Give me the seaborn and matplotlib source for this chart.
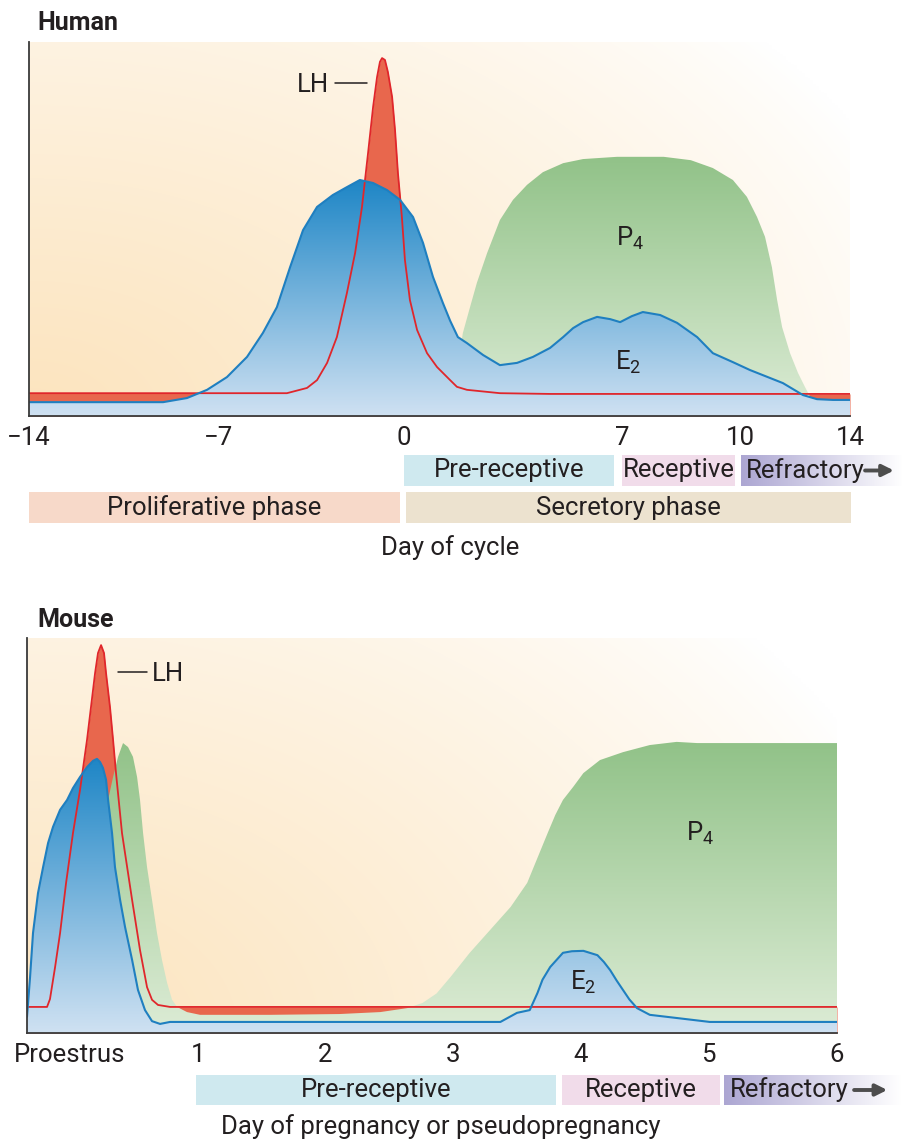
import numpy as np
import pandas as pd
import matplotlib
matplotlib.use("Agg")
import matplotlib.pyplot as plt
import seaborn as sns

# ================= DATA =================
# Human: day of cycle vs relative hormone level (0-1 of panel height)
human_lh_day = [-14.0, -4.43, -3.67, -3.29, -2.91, -2.54, -2.16, -1.85, -1.59, -1.36,
                -1.17, -1.02, -0.91, -0.83, -0.72, -0.61, -0.45, -0.34, -0.23, -0.08,
                0.03, 0.19, 0.42, 0.74, 1.06, 1.48, 1.70, 2.02, 3.08, 4.69, 14.0]
human_lh_val = [0.061, 0.061, 0.075, 0.096, 0.142, 0.211, 0.329, 0.436, 0.559, 0.703,
                0.826, 0.906, 0.947, 0.957, 0.952, 0.920, 0.853, 0.765, 0.650, 0.532,
                0.417, 0.310, 0.230, 0.168, 0.131, 0.096, 0.078, 0.070, 0.061, 0.059, 0.059]

human_e2_day = [-14.0, -9.06, -8.18, -7.44, -6.70, -5.94, -5.34, -4.81, -4.31, -3.82,
                -3.29, -2.69, -2.16, -1.67, -1.17, -0.64, -0.15, 0.29, 0.61, 0.93,
                1.25, 1.48, 1.73, 2.02, 2.54, 3.08, 3.63, 4.14, 4.69, 5.11,
                5.43, 5.75, 6.20, 6.62, 6.94, 7.25, 7.53, 7.97, 8.40, 8.91,
                9.31, 9.82, 10.36, 11.56, 12.29, 12.80, 13.38, 14.0]
human_e2_val = [0.037, 0.037, 0.048, 0.070, 0.104, 0.158, 0.222, 0.291, 0.398, 0.497,
                0.559, 0.591, 0.612, 0.631, 0.623, 0.604, 0.578, 0.532, 0.463, 0.372,
                0.302, 0.255, 0.211, 0.195, 0.163, 0.136, 0.142, 0.158, 0.182, 0.211,
                0.235, 0.251, 0.265, 0.259, 0.251, 0.267, 0.278, 0.270, 0.249, 0.211,
                0.168, 0.144, 0.123, 0.088, 0.056, 0.045, 0.043, 0.043]

human_p4_day = [1.48, 1.89, 2.12, 2.34, 2.67, 3.08, 3.50, 3.95, 4.46, 5.11,
                5.75, 6.84, 8.06, 8.75, 9.31, 9.82, 10.25, 10.62, 10.91, 11.16,
                11.35, 11.53, 11.82, 12.11, 12.36, 12.55, 12.84]
human_p4_val = [0.0, 0.222, 0.291, 0.356, 0.436, 0.524, 0.578, 0.618, 0.652, 0.676,
                0.687, 0.693, 0.693, 0.684, 0.663, 0.631, 0.586, 0.532, 0.479, 0.398,
                0.310, 0.238, 0.168, 0.115, 0.078, 0.051, 0.0]

human_ticks = [-14, -7, 0, 7, 10, 14]
human_tick_labels = ["\u221214", "\u22127", "0", "7", "10", "14"]
# the human day axis is drawn non-uniformly: tick days -> horizontal pixel positions
human_axis_days = [-16, -14, -7, 0, 7, 10, 14, 16]
human_axis_px = [-25, 29, 219, 404, 622, 740, 850, 905]

human_windows = ["Pre-receptive", "Receptive", "Refractory"]
human_window_start = [0.0, 7.0, 10.04]
human_window_end = [6.74, 9.87, 15.9]
human_phases = ["Proliferative phase", "Secretory phase"]
human_phase_start = [-14.0, 0.06]
human_phase_end = [-0.15, 14.04]

# Mouse: day of pregnancy vs relative hormone level
mouse_lh_day = [-0.337, -0.180, -0.157, -0.117, -0.078, -0.031, 0.023, 0.078, 0.133, 0.164,
                0.196, 0.219, 0.243, 0.266, 0.282, 0.313, 0.337, 0.360, 0.407, 0.486,
                0.548, 0.603, 0.642, 0.689, 0.783, 6.006]
mouse_lh_val = [0.066, 0.066, 0.086, 0.167, 0.253, 0.380, 0.506, 0.615, 0.742, 0.825,
                0.911, 0.962, 0.982, 0.962, 0.911, 0.825, 0.742, 0.658, 0.506, 0.337,
                0.210, 0.116, 0.084, 0.071, 0.066, 0.066]

mouse_e2_day = [-0.337, -0.313, -0.290, -0.251, -0.211, -0.172, -0.133, -0.078, -0.023, 0.023,
                0.078, 0.133, 0.180, 0.211, 0.235, 0.258, 0.282, 0.298, 0.329, 0.352,
                0.392, 0.431, 0.486, 0.532, 0.587, 0.642, 0.705, 0.783, 3.37, 3.50,
                3.60, 3.66, 3.70, 3.76, 3.86, 3.93, 4.02, 4.13, 4.18, 4.23,
                4.28, 4.33, 4.38, 4.44, 4.54, 4.75, 5.01, 6.006]
mouse_e2_val = [0.041, 0.142, 0.253, 0.354, 0.420, 0.481, 0.522, 0.565, 0.590, 0.620,
                0.648, 0.673, 0.689, 0.694, 0.686, 0.671, 0.641, 0.590, 0.506, 0.420,
                0.337, 0.268, 0.185, 0.109, 0.058, 0.030, 0.023, 0.028, 0.028, 0.051,
                0.058, 0.101, 0.135, 0.167, 0.203, 0.207, 0.208, 0.197, 0.180, 0.159,
                0.133, 0.109, 0.085, 0.063, 0.046, 0.038, 0.028, 0.028]

mouse_p4_day = [-0.337, -0.180, -0.102, -0.023, 0.055, 0.102, 0.141, 0.180, 0.219, 0.258,
                0.298, 0.337, 0.376, 0.415, 0.454, 0.493, 0.525, 0.548, 0.572, 0.603,
                0.642, 0.681, 0.720, 0.760, 0.799, 0.838, 0.916, 1.018, 1.566, 2.11,
                2.43, 2.64, 2.76, 2.87, 2.98, 3.13, 3.29, 3.45, 3.58, 3.74,
                3.80, 3.86, 3.94, 4.02, 4.15, 4.33, 4.54, 4.75, 4.91, 6.006]
mouse_p4_val = [0.041, 0.038, 0.058, 0.084, 0.127, 0.167, 0.253, 0.337, 0.420, 0.506,
                0.590, 0.648, 0.699, 0.734, 0.724, 0.699, 0.648, 0.590, 0.506, 0.420,
                0.337, 0.253, 0.185, 0.127, 0.084, 0.066, 0.053, 0.046, 0.046, 0.048,
                0.053, 0.063, 0.076, 0.100, 0.142, 0.203, 0.261, 0.319, 0.380, 0.506,
                0.552, 0.590, 0.623, 0.658, 0.691, 0.711, 0.729, 0.737, 0.734, 0.734]

mouse_ticks = [0, 1, 2, 3, 4, 5, 6]
mouse_tick_labels = ["Proestrus", "1", "2", "3", "4", "5", "6"]

mouse_windows = ["Pre-receptive", "Receptive", "Refractory"]
mouse_window_start = [0.987, 3.853, 5.121]
mouse_window_end = [3.806, 5.09, 6.50]

# ================= STYLE =================
W, H = 903, 1140
sns.set_theme(style="white")
plt.rcParams["font.family"] = ["Roboto", "DejaVu Sans"]
plt.rcParams["mathtext.default"] = "regular"
TXT = "#231f20"
FS = 18.5

RED_FILL = "#e8674d"
RED_LINE = "#e0262b"
BLUE_LINE = "#1f7fc0"
BLUE_TOP, BLUE_BOT = np.array([30, 134, 198]) / 255, np.array([207, 225, 242]) / 255
GREEN_TOP, GREEN_BOT = np.array([145, 194, 136]) / 255, np.array([221, 236, 214]) / 255
BAR_COLORS = {"Pre-receptive": "#cfe9ef", "Receptive": "#f1dcea",
              "Proliferative phase": "#f7d9c9", "Secretory phase": "#ece2cf"}
REFR_COL = np.array([172, 166, 210]) / 255


def px_box(x0, y0, x1, y1):
    return [x0 / W, 1 - y1 / H, (x1 - x0) / W, (y1 - y0) / H]


def human_scale(ax):
    fwd = lambda d: np.interp(d, human_axis_days, human_axis_px)
    inv = lambda p: np.interp(p, human_axis_px, human_axis_days)
    ax.set_xscale("function", functions=(fwd, inv))


def background(ax):
    ny, nx = 200, 300
    fx = np.linspace(0, 1, nx)[None, :]
    fy = np.linspace(0, 1, ny)[:, None]
    d = np.sqrt((fx / 1.15) ** 2 + (fy / 1.6) ** 2)
    s = np.clip(1 - d, 0, 1) ** 0.8
    peach = np.array([252, 228, 190]) / 255
    img = 1 - s[..., None] * (1 - peach)
    ax.imshow(img, extent=[0, 1, 0, 1], origin="lower", transform=ax.transAxes,
              aspect="auto", zorder=0, interpolation="bilinear")


def gradient_fill(ax, x, y, top, bot, z):
    poly = ax.fill_between(x, y, 0, facecolor="none", edgecolor="none", zorder=z)
    frac = max(y)  # ylim is 0..1
    g = np.linspace(0, 1, 256)[:, None, None]
    cols = bot[None, None, :] + (top - bot)[None, None, :] * g
    im = ax.imshow(cols, extent=[0, 1, 0, frac], origin="lower", transform=ax.transAxes,
                   aspect="auto", zorder=z, interpolation="bilinear")
    im.set_clip_path(poly.get_paths()[0], ax.transData)


def line(ax, x, y, color, lw, z):
    df = pd.DataFrame({"x": x, "y": y})
    sns.lineplot(data=df, x="x", y="y", ax=ax, color=color, linewidth=lw,
                 estimator=None, sort=False, legend=False, zorder=z)
    ax.lines[-1].set_solid_joinstyle("round")


def style_axes(ax):
    for s in ["top", "right"]:
        ax.spines[s].set_visible(False)
    for s in ["left", "bottom"]:
        ax.spines[s].set_color("#3a3a3a")
        ax.spines[s].set_linewidth(1.3)
        ax.spines[s].set_zorder(10)
    ax.set_yticks([])
    ax.tick_params(axis="x", length=0, pad=7, labelsize=FS, labelcolor=TXT)
    ax.set_xlabel("")
    ax.set_ylabel("")


def window_bars(bax, names, starts, ends, row, hgt, refr_text_x=None, arrow=None):
    for name, s, e in zip(names, starts, ends):
        if name == "Refractory":
            rect = bax.barh(row, e - s, left=s, height=hgt, color="none", edgecolor="none")[0]
            tr = bax.transData + bax.transAxes.inverted()
            (ax0, ay0), (ax1, ay1) = tr.transform([(s, row - hgt / 2), (e, row + hgt / 2)])
            g = np.linspace(0, 1, 256)[None, :, None]
            cols = REFR_COL[None, None, :] + (1 - REFR_COL)[None, None, :] * g
            im = bax.imshow(cols, extent=[ax0, ax1, min(ay0, ay1), max(ay0, ay1)],
                            transform=bax.transAxes, aspect="auto", zorder=1,
                            interpolation="bilinear")
            im.set_clip_path(rect)
            bax.text(refr_text_x, row, name, ha="left", va="center", fontsize=FS,
                     color=TXT, zorder=3)
            if arrow is not None:
                bax.annotate("", xy=(arrow[1], row), xytext=(arrow[0], row),
                             arrowprops=dict(arrowstyle="-|>", color="#4d4d4d", lw=2.8,
                                             mutation_scale=17, shrinkA=0, shrinkB=0),
                             zorder=3)
        else:
            bax.barh(row, e - s, left=s, height=hgt, color=BAR_COLORS[name],
                     edgecolor="none", zorder=1)
            if bax.get_xscale() == "function":
                fwd = bax.xaxis.get_transform().transform
                inv = bax.xaxis.get_transform().inverted().transform
                cx = inv(np.array([(fwd(np.array([s]))[0] + fwd(np.array([e]))[0]) / 2]))[0]
            else:
                cx = (s + e) / 2
            bax.text(cx, row, name, ha="center", va="center", fontsize=FS, color=TXT, zorder=3)


fig = plt.figure(figsize=(W / 100, H / 100), dpi=100)

# ================= HUMAN PANEL =================
ax = fig.add_axes(px_box(29, 42, 850, 416))
human_scale(ax)
ax.set_facecolor("white")
background(ax)
ax.fill_between(human_lh_day, human_lh_val, 0, color=RED_FILL, lw=0, zorder=1)
gradient_fill(ax, human_p4_day, human_p4_val, GREEN_TOP, GREEN_BOT, 2)
gradient_fill(ax, human_e2_day, human_e2_val, BLUE_TOP, BLUE_BOT, 3)
line(ax, human_lh_day, human_lh_val, RED_LINE, 1.3, 5)
line(ax, human_e2_day, human_e2_val, BLUE_LINE, 1.5, 6)
ax.plot([-2.61, -1.40], [0.890, 0.890], color=TXT, lw=1.1, zorder=7)
ax.text(-2.85, 0.885, "LH", ha="right", va="center", fontsize=FS, color=TXT, zorder=7)
ax.text(7.2, 0.476, r"P$_{4}$", ha="center", va="center", fontsize=FS, color=TXT, zorder=7)
ax.text(7.15, 0.144, r"E$_{2}$", ha="center", va="center", fontsize=FS, color=TXT, zorder=7)
ax.set_xlim(-14, 14)
ax.set_ylim(0, 1)
ax.set_xticks(human_ticks)
ax.set_xticklabels(human_tick_labels)
style_axes(ax)

bax = fig.add_axes(px_box(29, 452, 903, 526))
human_scale(bax)
bax.set_xlim(-14, 15.93)
bax.set_ylim(1.5, -0.5)
window_bars(bax, human_windows, human_window_start, human_window_end, 0, 0.85,
            refr_text_x=10.2, arrow=(14.55, 15.6))
window_bars(bax, human_phases, human_phase_start, human_phase_end, 1, 0.83)
bax.set_xlim(-14, 15.93)
bax.set_ylim(1.5, -0.5)
bax.set_axis_off()

fig.text(37 / W, 1 - 23 / H, "Human", fontsize=18, fontweight="bold", color=TXT,
         ha="left", va="center")
fig.text(450 / W, 1 - 548 / H, "Day of cycle", fontsize=FS, color=TXT, ha="center", va="center")

# ================= MOUSE PANEL =================
mx = fig.add_axes(px_box(27, 638, 837, 1033))
mx.set_facecolor("white")
background(mx)
mx.fill_between(mouse_lh_day, mouse_lh_val, 0, color=RED_FILL, lw=0, zorder=1)
gradient_fill(mx, mouse_p4_day, mouse_p4_val, GREEN_TOP, GREEN_BOT, 2)
gradient_fill(mx, mouse_e2_day, mouse_e2_val, BLUE_TOP, BLUE_BOT, 3)
line(mx, mouse_lh_day, mouse_lh_val, RED_LINE, 1.3, 5)
line(mx, mouse_e2_day, mouse_e2_val, BLUE_LINE, 1.5, 6)
mx.plot([0.376, 0.60], [0.914, 0.914], color=TXT, lw=1.1, zorder=7)
mx.text(0.64, 0.910, "LH", ha="left", va="center", fontsize=FS, color=TXT, zorder=7)
mx.text(4.93, 0.506, r"P$_{4}$", ha="center", va="center", fontsize=FS, color=TXT, zorder=7)
mx.text(4.02, 0.129, r"E$_{2}$", ha="center", va="center", fontsize=FS, color=TXT, zorder=7)
mx.set_xlim(-0.337, 6.006)
mx.set_ylim(0, 1)
mx.set_xticks(mouse_ticks)
mx.set_xticklabels(mouse_tick_labels)
style_axes(mx)

mbx = fig.add_axes(px_box(27, 1072, 903, 1108))
mbx.set_xlim(-0.337, 6.523)
mbx.set_ylim(0.5, -0.5)
window_bars(mbx, mouse_windows, mouse_window_start, mouse_window_end, 0, 0.84,
            refr_text_x=5.17, arrow=(6.14, 6.40))
mbx.set_xlim(-0.337, 6.523)
mbx.set_ylim(0.5, -0.5)
mbx.set_axis_off()

fig.text(37 / W, 1 - 620 / H, "Mouse", fontsize=18, fontweight="bold", color=TXT,
         ha="left", va="center")
fig.text(441 / W, 1 - 1127 / H, "Day of pregnancy or pseudopregnancy", fontsize=FS,
         color=TXT, ha="center", va="center")

fig.savefig("out.png", dpi=100, facecolor="white")
